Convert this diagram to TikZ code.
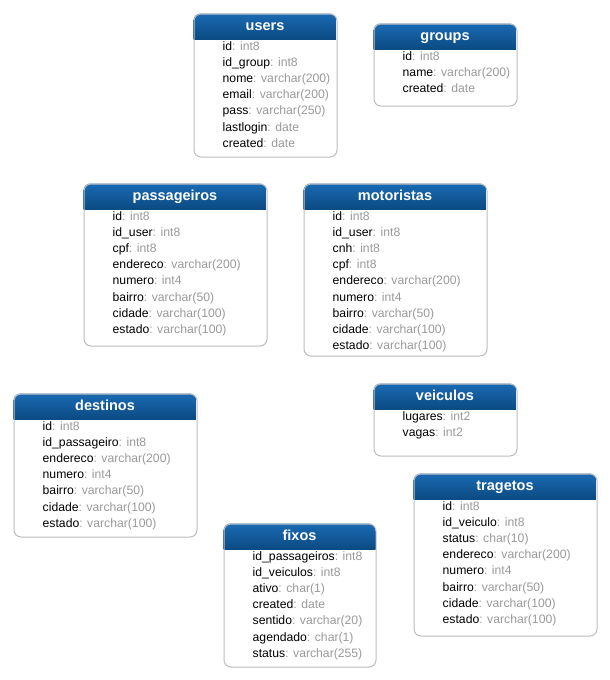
\documentclass[tikz,border=0pt]{standalone}
\usepackage{fontspec}
\setmainfont{Liberation Sans}
\usetikzlibrary{calc}
\definecolor{hdtop}{HTML}{1A6AB3}
\definecolor{hdbot}{HTML}{0B4A82}
\definecolor{frameline}{HTML}{BDBDBD}
\definecolor{typegray}{HTML}{9A9A9A}
\tikzset{
  tblframe/.style={draw=frameline, line width=1pt, rounded corners=7pt, inner sep=0pt, fill=none},
  tbltitle/.style={text=white, font=\fontsize{14.5}{16}\selectfont\bfseries, inner sep=0pt, anchor=base},
  tblfield/.style={text=black, font=\fontsize{12.2}{14}\selectfont, inner sep=0pt, anchor=base west},
}
% #1 name, #2 x, #3 y, #4 width, #5 height, #6 title, #7 fields (name/type list)
\newcommand\dbtable[7]{%
  \begin{scope}
    \clip[rounded corners=7pt] (#2,#3) rectangle ++(#4,#5);
    \shade[top color=hdtop, bottom color=hdbot] (#2,#3) rectangle ++(#4,26);
  \end{scope}
  \node[tblframe, minimum width=#4pt, minimum height=#5pt, anchor=north west] (#1) at (#2,#3) {};
  \node[tbltitle] (#1-title) at (#2+#4/2,#3+17) {#6};
  \foreach \fn/\ft [count=\i] in {#7}{
    \node[tblfield] (#1-\i) at (#2+29,#3+37+\i*16.1-16.1) {\fn\textcolor{typegray}{: \ft}};
  }%
}
\begin{document}
\begin{tikzpicture}[x=1pt,y=-1pt]
\useasboundingbox[fill=white] (0,0) rectangle (610,680);

\dbtable{users}{193.5}{13.5}{143}{143}{users}{id/int8, id\_group/int8, nome/varchar(200), email/varchar(200), pass/varchar(250), lastlogin/date, created/date}

\dbtable{groups}{373.5}{23.5}{143}{82}{groups}{id/int8, name/varchar(200), created/date}

\dbtable{passageiros}{83.5}{183.5}{183}{162}{passageiros}{id/int8, id\_user/int8, cpf/int8, endereco/varchar(200), numero/int4, bairro/varchar(50), cidade/varchar(100), estado/varchar(100)}

\dbtable{motoristas}{303.5}{183.5}{183}{172}{motoristas}{id/int8, id\_user/int8, cnh/int8, cpf/int8, endereco/varchar(200), numero/int4, bairro/varchar(50), cidade/varchar(100), estado/varchar(100)}

\dbtable{destinos}{13.5}{393.5}{183}{143}{destinos}{id/int8, id\_passageiro/int8, endereco/varchar(200), numero/int4, bairro/varchar(50), cidade/varchar(100), estado/varchar(100)}

\dbtable{veiculos}{373.5}{383.5}{143}{72}{veiculos}{lugares/int2, vagas/int2}

\dbtable{tragetos}{413.5}{473.5}{183}{162}{tragetos}{id/int8, id\_veiculo/int8, status/char(10), endereco/varchar(200), numero/int4, bairro/varchar(50), cidade/varchar(100), estado/varchar(100)}

\dbtable{fixos}{223.5}{523.5}{152}{143}{fixos}{id\_passageiros/int8, id\_veiculos/int8, ativo/char(1), created/date, sentido/varchar(20), agendado/char(1), status/varchar(255)}
\end{tikzpicture}
\end{document}
